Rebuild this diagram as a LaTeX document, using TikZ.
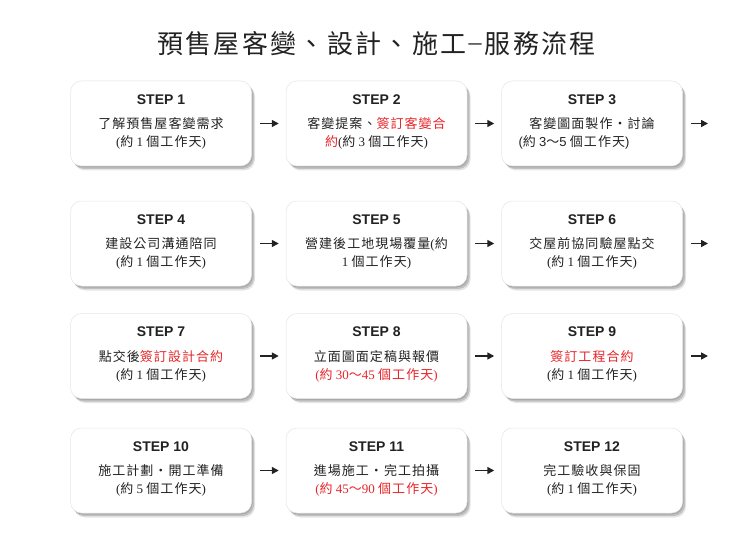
\documentclass[tikz,border=0pt]{standalone}
\usepackage{fontspec}
\setmainfont{Liberation Serif}
\newfontfamily\zhf[LetterSpace=8]{Noto Sans CJK TC}
\newfontfamily\zhtitle[LetterSpace=9]{Noto Sans CJK TC}
\newfontfamily\stepf{Liberation Sans}
\usetikzlibrary{shadows,arrows.meta}
\definecolor{txt}{RGB}{34,34,34}
\definecolor{hl}{RGB}{232,36,40}
\newcommand\zh[1]{{\zhf #1}}
\newcommand\hot[1]{\textcolor{hl}{#1}}
\newcommand\std[1]{(\zh{約} #1 \zh{個工作天})}
\newcommand\mkstep[6]{%
  \node[box] (#1) at (#2,#3) {};
  \path (#1.north) ++(0,23.3) node[lbl] (#1l) {#4};
  \path (#1.north) ++(0,48) node[ln] (#1a) {#5};
  \path (#1.north) ++(0,66) node[ln] (#1b) {#6};}
\begin{document}
\begin{tikzpicture}[x=1pt,y=-1pt,
  box/.style={draw=black!10, line width=.5pt, fill=white, rounded corners=11pt,
    minimum width=181pt, minimum height=85pt, inner sep=0pt,
    general shadow={shadow xshift=1pt, shadow yshift=-1.5pt, fill=black, opacity=.12},
    general shadow={shadow xshift=2.5pt, shadow yshift=-3pt, fill=black, opacity=.16},
    general shadow={shadow xshift=3.5pt, shadow yshift=-4.5pt, fill=black, opacity=.10}},
  lbl/.style={anchor=base, font=\stepf\bfseries\fontsize{14}{16}\selectfont, text=txt, inner sep=0pt},
  ln/.style={anchor=base, font=\fontsize{13}{16}\selectfont, text=txt, inner sep=0pt},
  arr/.style={-{Triangle[length=7pt,width=7pt]}, line width=1.6pt, draw=txt,
    shorten <=8pt, shorten >=7pt}]
\useasboundingbox (0,0) rectangle (750,559);
\node[anchor=base, font=\zhtitle\fontsize{26}{30}\selectfont, text=txt, inner sep=0pt]
  (title) at (376.5,54) {預售屋客變、設計、施工{\rmfamily\kern2pt\raisebox{3pt}{–}\kern3pt}服務流程};
% row 1
\mkstep{s1}{161}{123.5}{STEP 1}{\zh{了解預售屋客變需求}}{\std{1}}
\mkstep{s2}{376.5}{123.5}{STEP 2}{\zh{客變提案、}\hot{\zh{簽訂客變合}}}{\hot{\zh{約}}\std{3}}
\mkstep{s3}{592}{123.5}{STEP 3}{\zh{客變圖面製作・討論}}{{\stepf (}\zh{約} {\stepf 3}\zh{～}{\stepf 5} \zh{個工作天}{\stepf )}\kern36pt\relax}
% row 2
\mkstep{s4}{161}{243.5}{STEP 4}{\zh{建設公司溝通陪同}}{\std{1}}
\mkstep{s5}{376.5}{243.5}{STEP 5}{\zh{營建後工地現場覆量}(\zh{約}}{1 \zh{個工作天})}
\mkstep{s6}{592}{243.5}{STEP 6}{\zh{交屋前協同驗屋點交}}{\std{1}}
% row 3
\mkstep{s7}{161}{356}{STEP 7}{\zh{點交後}\hot{\zh{簽訂設計合約}}}{\std{1}}
\mkstep{s8}{376.5}{356}{STEP 8}{\zh{立面圖面定稿與報價}}{\hot{(\zh{約} 30\zh{～}45 \zh{個工作天})}}
\mkstep{s9}{592}{356}{STEP 9}{\hot{\zh{簽訂工程合約}}}{\std{1}}
% row 4
\mkstep{s10}{161}{470.5}{STEP 10}{\zh{施工計劃・開工準備}}{\std{5}}
\mkstep{s11}{376.5}{470.5}{STEP 11}{\zh{進場施工・完工拍攝}}{\hot{(\zh{約} 45\zh{～}90 \zh{個工作天})}}
\mkstep{s12}{592}{470.5}{STEP 12}{\zh{完工驗收與保固}}{\std{1}}
% free ends
\coordinate (e3) at (708,123.5);
\coordinate (e6) at (708,243.5);
\coordinate (e9) at (708,356);
% connectors
\draw[arr] (s1) -- (s2);
\draw[arr] (s2) -- (s3);
\draw[arr, shorten >=0pt] (s3) -- (e3);
\draw[arr] (s4) -- (s5);
\draw[arr] (s5) -- (s6);
\draw[arr, shorten >=0pt] (s6) -- (e6);
\draw[arr] (s7) -- (s8);
\draw[arr] (s8) -- (s9);
\draw[arr, shorten >=0pt] (s9) -- (e9);
\draw[arr] (s10) -- (s11);
\draw[arr] (s11) -- (s12);
\end{tikzpicture}
\end{document}
